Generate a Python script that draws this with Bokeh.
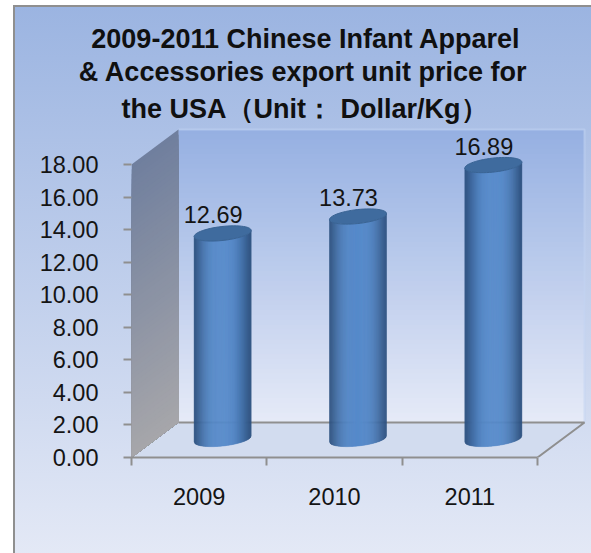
import numpy as np
from bokeh.plotting import figure
from bokeh.embed import file_html
from bokeh.resources import INLINE
from bokeh.models import FixedTicker, NumeralTickFormatter, CustomJSTickFormatter, ColumnDataSource, Title, Range1d
from bokeh.core.properties import value

YEARS = ["2009", "2010", "2011"]
PRICES = [12.69, 13.73, 16.89]
Y_TICKS = [0, 2, 4, 6, 8, 10, 12, 14, 16, 18]
TITLE_LINES = ["2009-2011 Chinese Infant Apparel",
               "& Accessories export unit price for",
               "the USA（Unit： Dollar/Kg）"]

W, H = 591, 553
OX, OY = 0, 0
X0, Y0 = 131, 457          # page pixel of the axes' origin
TOP = 127                  # page pixel of the plot area's top
PX_X = (537 - 131) / 3     # pixels per category
PX_Y = (457 - 164) / 18    # pixels per dollar
DX, DY = 47 / PX_X, 35 / PX_Y   # depth of the 3D box, in data units
FONT = "Liberation Sans"
GREY = "#8f8f8f"
TXT = "#141414"

def dx(px): return (px - X0) / PX_X
def dy(py): return (Y0 - py) / PX_Y
def rgb(c): return "#%02x%02x%02x" % tuple(int(round(v)) for v in c)
def mix(a, b, t): return [a[i] + (b[i] - a[i]) * t for i in range(3)]

p = figure(width=W, height=H, output_backend="svg", toolbar_location=None, title=None,
           x_range=Range1d(0, dx(OX + W)), y_range=Range1d(0, dy(TOP)),
           min_border_left=X0 - OX, min_border_right=0,
           min_border_top=TOP - OY, min_border_bottom=OY + H - Y0,
           border_fill_color=None, background_fill_color=None, outline_line_color=None)
p.styles = {
    "background-image": "linear-gradient(#8f8f8f,#8f8f8f), linear-gradient(#8f8f8f,#8f8f8f), linear-gradient(#9bb4e1,#e4e9f6)",
    "background-size": "578px 2px, 2px 100%, 578px 100%",
    "background-position": "13px 5px, 13px 5px, 13px 5px",
    "background-repeat": "no-repeat",
}
p.grid.visible = False

# axes
p.yaxis.bounds = (0, 18)
p.yaxis.ticker = FixedTicker(ticks=Y_TICKS)
p.yaxis.formatter = NumeralTickFormatter(format="0.00")
p.yaxis.axis_line_color = None
p.yaxis.major_tick_out = 8
p.yaxis.major_tick_in = 0
p.yaxis.major_tick_line_color = GREY
p.yaxis.major_tick_line_width = 2
p.yaxis.minor_tick_line_color = None
p.yaxis.major_label_standoff = 25
p.yaxis.major_label_text_font = FONT
p.yaxis.major_label_text_font_size = "23.5px"
p.yaxis.major_label_text_color = TXT

p.xaxis.bounds = (0, 3)
p.xaxis.ticker = FixedTicker(ticks=[i + 0.5 for i in range(3)], minor_ticks=[0, 1, 2, 3])
p.xaxis.formatter = CustomJSTickFormatter(args=dict(years=YEARS), code="return years[Math.floor(tick)]")
p.xaxis.axis_line_color = GREY
p.xaxis.axis_line_width = 2
p.xaxis.major_tick_line_color = None
p.xaxis.minor_tick_out = 8
p.xaxis.minor_tick_in = 0
p.xaxis.minor_tick_line_color = GREY
p.xaxis.minor_tick_line_width = 2
p.xaxis.major_label_standoff = 22
p.xaxis.major_label_text_font = FONT
p.xaxis.major_label_text_font_size = "23.5px"
p.xaxis.major_label_text_color = TXT

# back wall: vertical gradient
n = 60
tops = np.linspace(18 + DY, DY, n + 1)
wall_xs, wall_ys, wall_cols = [], [], []
for i in range(n):
    wall_xs.append([DX, 3 + DX, 3 + DX, DX])
    wall_ys.append([tops[i], tops[i], DY, DY])
    wall_cols.append(rgb(mix((150, 176, 226), (229, 234, 247), i / (n - 1))))
p.patches(wall_xs, wall_ys, fill_color=wall_cols, line_color=None)
p.line([DX, 3 + DX, 3 + DX], [18 + DY, 18 + DY, DY], line_color="#c3d4f2", line_width=2, line_alpha=0.6)

# floor
p.patch([0, 3, 3 + DX, DX], [0, 0, DY, DY], fill_color="#d2dcef", line_color=None)
p.line([DX, 3 + DX, 3], [DY, DY, 0], line_color=GREY, line_width=2)

# left wall: vertical gradient, each slice painted down to the floor so no seams show
lx, ly, lc = [], [], []
for i in range(n):
    a = 18 * (1 - i / n)
    lx.append([0, DX, DX, 0])
    ly.append([a, a + DY, DY, 0])
    lc.append(rgb(mix((112, 127, 158), (166, 166, 170), i / (n - 1))))
p.patches(lx, ly, fill_color=lc, line_color=None)

# cylinders
R = 28.5 / PX_X
B = 7 / PX_Y
TILT = 3 / PX_Y
EDGE = (46, 82, 128)
MID = (86, 138, 202)
strips = 56
for i, v in enumerate(PRICES):
    cx = i + 0.5 + DX / 2
    base = DY / 2 + 1 / PX_Y
    top = v + DY / 2
    us = np.linspace(-1, 1, strips + 1)
    xs, ys, cols = [], [], []
    for j in range(strips):
        u0, u1 = us[j], us[j + 1]
        um = (u0 + u1) / 2
        f0 = np.sqrt(max(0, 1 - u0 * u0)) * B - TILT * u0
        f1 = np.sqrt(max(0, 1 - u1 * u1)) * B - TILT * u1
        xs.append([cx + R * u0, cx + R * u1, cx + R * u1, cx + R * u0])
        ys.append([top - f0, top - f1, base - f1, base - f0])
        cols.append(rgb(mix(EDGE, MID, (1 - abs(um) ** 3) ** 1.5)))
    p.patches(xs, ys, fill_color=cols, line_color=cols, line_width=0.5)
    t = np.linspace(0, 2 * np.pi, 60)
    p.patch(cx + R * np.cos(t), top + TILT * np.cos(t) + B * np.sin(t),
            fill_color="#3f6b9e", line_color="#3a6494", line_width=1)

# value labels
src = ColumnDataSource(dict(x=[i + 0.5 + 14 / PX_X for i in range(3)],
                            y=[v + DY / 2 for v in PRICES],
                            text=["%.2f" % v for v in PRICES]))
p.text(x="x", y="y", text="text", source=src, text_font=value(FONT), text_font_size=value("23.5px"),
       text_color=TXT, text_align="center", text_baseline="middle", y_offset=-19)

# title: one Title per line, right-aligned against the plot area's right edge.
# The Title added first sits nearest the plot, so the lines go in bottom-up.
for line, right_edge, gap in reversed(list(zip(TITLE_LINES, (520, 527, 487), (1, 1, 8)))):
    p.add_layout(Title(text=line, text_font=FONT, text_font_style="bold", text_font_size="27px",
                       text_color="#101010", align="right", offset=W - right_edge, standoff=gap), "above")

open("out.html", "w").write(file_html(p, INLINE))
